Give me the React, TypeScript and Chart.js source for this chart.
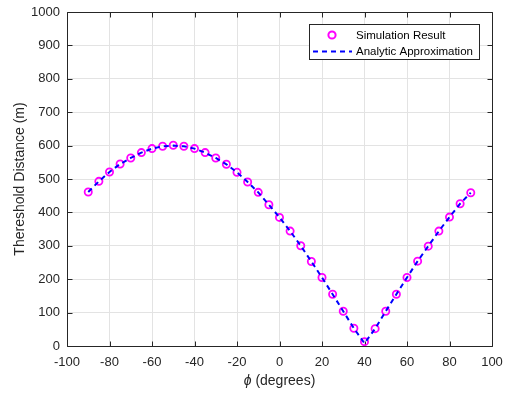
import React, { useEffect, useRef } from "react";
import { Chart, registerables } from "chart.js";

Chart.register(...registerables);

const phiDegrees = [
  -90, -85, -80, -75, -70, -65, -60, -55, -50, -45, -40, -35, -30, -25, -20, -15, -10, -5, 0,
  5, 10, 15, 20, 25, 30, 35, 40, 45, 50, 55, 60, 65, 70, 75, 80, 85, 90,
];
const simulationResult = [
  461, 493, 521, 545, 563, 579, 591, 598, 601, 598, 591, 579, 563, 544, 520, 491, 460, 423, 385,
  344, 300, 253, 205, 155, 104, 53, 13, 52, 104, 155, 205, 254, 299, 344, 386, 426, 459,
];
const analyticApprox = [
  461, 493, 521, 545, 563, 579, 591, 598, 600, 598, 591, 579, 563, 544, 520, 491, 460, 423, 385,
  344, 300, 253, 205, 155, 104, 53, 8, 52, 104, 155, 205, 254, 299, 344, 386, 426, 459,
];
const xTicks = [-100, -80, -60, -40, -20, 0, 20, 40, 60, 80, 100];
const yTicks = [0, 100, 200, 300, 400, 500, 600, 700, 800, 900, 1000];
const seriesLabels = ["Simulation Result", "Analytic Approximation"];
const yTitle = "Thereshold Distance (m)";
const xTitleSymbol = "ϕ";
const xTitleRest = " (degrees)";

const FONT = "'Liberation Sans', Arial, Helvetica, sans-serif";
const AXIS = "#262626";
const MAGENTA = "#ff00ff";
const BLUE = "#0000ff";

const decorPlugin = {
  id: "decor",
  beforeDatasetsDraw(chart: any) {
    const { ctx, chartArea } = chart;
    const { left, right, top, bottom } = chartArea;
    const xs = chart.scales.x;
    const ys = chart.scales.y;
    ctx.save();
    ctx.strokeStyle = AXIS;
    ctx.lineWidth = 1;
    const L = Math.round(left) + 0.5;
    const R = Math.round(right) + 0.5;
    const T = Math.round(top) + 0.5;
    const B = Math.round(bottom) + 0.5;
    ctx.beginPath();
    ctx.rect(L, T, R - L, B - T);
    ctx.stroke();
    const tl = 5;
    ctx.beginPath();
    xTicks.forEach((v) => {
      const px = Math.round(xs.getPixelForValue(v)) + 0.5;
      ctx.moveTo(px, B);
      ctx.lineTo(px, B - tl);
      ctx.moveTo(px, T);
      ctx.lineTo(px, T + tl);
    });
    yTicks.forEach((v) => {
      const py = Math.round(ys.getPixelForValue(v)) + 0.5;
      ctx.moveTo(L, py);
      ctx.lineTo(L + tl, py);
      ctx.moveTo(R, py);
      ctx.lineTo(R - tl, py);
    });
    ctx.stroke();
    ctx.restore();
  },
  afterDraw(chart: any) {
    const { ctx, chartArea } = chart;
    ctx.save();
    const cx = (chartArea.left + chartArea.right) / 2;
    const ty = 381;
    ctx.fillStyle = AXIS;
    ctx.textBaseline = "middle";
    const italicFont = `italic 14px ${FONT}`;
    const normalFont = `14px ${FONT}`;
    ctx.font = italicFont;
    const w1 = ctx.measureText(xTitleSymbol).width;
    ctx.font = normalFont;
    const w2 = ctx.measureText(xTitleRest).width;
    const start = cx - (w1 + w2) / 2;
    ctx.font = italicFont;
    ctx.textAlign = "left";
    ctx.fillText(xTitleSymbol, start, ty);
    ctx.font = normalFont;
    ctx.fillText(xTitleRest, start + w1, ty);

    const bx = 309.5, by = 24.5, bw = 170, bh = 35;
    ctx.fillStyle = "#ffffff";
    ctx.fillRect(bx, by, bw, bh);
    ctx.strokeStyle = AXIS;
    ctx.lineWidth = 1;
    ctx.strokeRect(bx, by, bw, bh);

    ctx.beginPath();
    ctx.strokeStyle = MAGENTA;
    ctx.lineWidth = 2;
    ctx.arc(332, 35, 3.6, 0, Math.PI * 2);
    ctx.stroke();

    ctx.beginPath();
    ctx.strokeStyle = BLUE;
    ctx.lineWidth = 2;
    ctx.setLineDash([5, 4]);
    ctx.moveTo(313, 51.5);
    ctx.lineTo(352, 51.5);
    ctx.stroke();
    ctx.setLineDash([]);

    ctx.fillStyle = "#000000";
    ctx.font = `11.5px ${FONT}`;
    ctx.textAlign = "left";
    ctx.textBaseline = "middle";
    ctx.fillText(seriesLabels[0], 356, 35.5);
    ctx.fillText(seriesLabels[1], 356, 51.5);
    ctx.restore();
  },
};

export default function App() {
  const ref = useRef<HTMLCanvasElement | null>(null);

  useEffect(() => {
    if (!ref.current) return;
    const chart = new Chart(ref.current, {
      type: "scatter",
      data: {
        datasets: [
          {
            label: seriesLabels[0],
            data: phiDegrees.map((x, i) => ({ x, y: simulationResult[i] })),
            showLine: false,
            pointStyle: "circle",
            pointRadius: 3.6,
            pointBorderWidth: 1.8,
            borderColor: MAGENTA,
            backgroundColor: "rgba(0,0,0,0)",
            order: 2,
          },
          {
            label: seriesLabels[1],
            data: phiDegrees.map((x, i) => ({ x, y: analyticApprox[i] })),
            showLine: true,
            pointRadius: 0,
            borderColor: BLUE,
            borderWidth: 2,
            borderDash: [5, 4],
            backgroundColor: BLUE,
            order: 1,
          },
        ],
      },
      options: {
        responsive: false,
        animation: false,
        layout: { padding: { top: 12, right: 14, left: 0, bottom: 0 } },
        plugins: {
          legend: { display: false },
          tooltip: { enabled: false },
        },
        scales: {
          x: {
            type: "linear",
            min: -100,
            max: 100,
            afterBuildTicks: (scale: any) => {
              scale.ticks = xTicks.map((v) => ({ value: v }));
            },
            afterFit: (scale: any) => {
              scale.height = 49;
              scale.paddingLeft = 0;
              scale.paddingRight = 0;
            },
            grid: { color: "#e3e3e3", drawTicks: false, lineWidth: 1 },
            border: { display: false },
            ticks: {
              padding: 9,
              color: AXIS,
              font: { family: FONT, size: 13 },
              maxRotation: 0,
              callback: (v: any) => String(v),
            },
          },
          y: {
            type: "linear",
            min: 0,
            max: 1000,
            afterBuildTicks: (scale: any) => {
              scale.ticks = yTicks.map((v) => ({ value: v }));
            },
            afterFit: (scale: any) => {
              scale.width = 67;
              scale.paddingTop = 0;
              scale.paddingBottom = 0;
            },
            grid: { color: "#e3e3e3", drawTicks: false, lineWidth: 1 },
            border: { display: false },
            ticks: {
              padding: 7,
              color: AXIS,
              font: { family: FONT, size: 13 },
              callback: (v: any) => String(v),
            },
            title: {
              display: true,
              text: yTitle,
              color: AXIS,
              font: { family: FONT, size: 14 },
              padding: { top: 12, bottom: 0 },
            },
          },
        },
      },
      plugins: [decorPlugin],
    });
    return () => chart.destroy();
  }, []);

  return (
    <div style={{ position: "fixed", left: 0, top: 0, width: 506, height: 395, background: "#fff" }}>
      <canvas ref={ref} width={506} height={395} style={{ display: "block" }} />
    </div>
  );
}
